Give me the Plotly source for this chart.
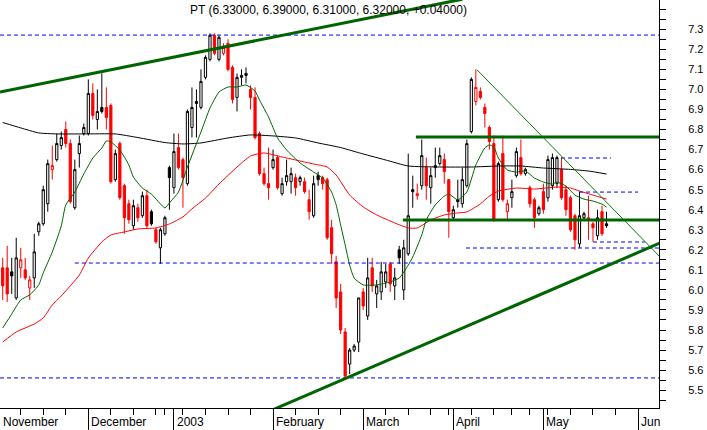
import plotly.graph_objects as go

# ---------------- data (daily candles, index = trading day) ----------------
OPEN = [6.11, 6.11, 6.09, 5.96, 6.11, 6.10, 6.01, 6.06, 6.29, 6.33,
        6.43, 6.60, 6.65, 6.72, 6.80, 6.73, 6.41, 6.68, 6.78, 6.78,
        6.98, 6.85, 6.91, 6.91, 6.92, 6.55, 6.73, 6.52, 6.43, 6.32,
        6.41, 6.37, 6.47, 6.39, 6.30, 6.21, 6.28, 6.61, 6.51, 6.71,
        6.65, 6.53, 6.81, 6.94, 6.91, 7.06, 7.15, 7.27, 7.15, 7.18,
        7.23, 7.11, 6.96, 7.06, 7.08, 7.00, 6.96, 6.78, 6.58, 6.53,
        6.61, 6.66, 6.48, 6.54, 6.54, 6.56, 6.54, 6.54, 6.45, 6.37,
        6.57, 6.56, 6.55, 6.31, 6.14, 5.99, 5.79, 5.63, 5.70, 5.74,
        5.99, 5.87, 6.11, 5.98, 5.99, 6.04, 6.13, 6.02, 6.20, 6.00,
        6.18, 6.50, 6.47, 6.52, 6.61, 6.51, 6.61, 6.63, 6.65, 6.55,
        6.36, 6.45, 6.43, 6.52, 6.79, 6.94, 6.99, 6.91, 6.81, 6.73,
        6.45, 6.68, 6.39, 6.46, 6.57, 6.66, 6.58, 6.51, 6.45, 6.38,
        6.49, 6.46, 6.52, 6.53, 6.60, 6.50, 6.46, 6.37, 6.23, 6.36,
        6.36, 6.33, 6.27, 6.39, 6.33]
HIGH = [6.16, 6.22, 6.16, 6.26, 6.21, 6.16, 6.07, 6.28, 6.34, 6.52,
        6.65, 6.72, 6.78, 6.79, 6.84, 6.75, 6.65, 6.77, 6.83, 7.05,
        7.03, 7.00, 7.08, 7.01, 6.93, 6.70, 6.74, 6.53, 6.45, 6.45,
        6.43, 6.49, 6.50, 6.40, 6.31, 6.31, 6.37, 6.62, 6.78, 6.78,
        6.66, 6.90, 7.01, 7.00, 7.10, 7.17, 7.28, 7.28, 7.27, 7.23,
        7.25, 7.12, 7.08, 7.10, 7.11, 7.02, 7.01, 6.79, 6.61, 6.71,
        6.70, 6.67, 6.56, 6.65, 6.61, 6.58, 6.57, 6.56, 6.50, 6.57,
        6.59, 6.57, 6.56, 6.35, 6.17, 6.03, 5.81, 5.71, 5.73, 5.96,
        6.01, 6.16, 6.16, 6.05, 6.14, 6.13, 6.14, 6.11, 6.22, 6.25,
        6.68, 6.57, 6.53, 6.75, 6.66, 6.61, 6.71, 6.71, 6.68, 6.55,
        6.42, 6.55, 6.61, 6.75, 7.06, 7.10, 7.01, 6.93, 6.82, 6.77,
        6.64, 6.77, 6.45, 6.55, 6.71, 6.75, 6.61, 6.52, 6.46, 6.42,
        6.53, 6.67, 6.68, 6.67, 6.66, 6.52, 6.47, 6.38, 6.49, 6.39,
        6.47, 6.34, 6.40, 6.42, 6.39]
LOW = [5.95, 5.94, 5.98, 5.95, 6.06, 6.05, 5.95, 6.01, 6.27, 6.32,
       6.39, 6.55, 6.64, 6.70, 6.71, 6.43, 6.40, 6.61, 6.77, 6.77,
       6.85, 6.80, 6.88, 6.80, 6.53, 6.54, 6.45, 6.28, 6.33, 6.30,
       6.34, 6.36, 6.31, 6.32, 6.23, 6.13, 6.27, 6.40, 6.48, 6.60,
       6.41, 6.52, 6.76, 6.76, 6.90, 7.05, 7.14, 7.17, 7.14, 7.17,
       7.09, 6.93, 6.89, 7.02, 7.03, 6.90, 6.75, 6.57, 6.52, 6.45,
       6.60, 6.50, 6.47, 6.52, 6.48, 6.47, 6.52, 6.48, 6.35, 6.36,
       6.52, 6.50, 6.25, 6.13, 5.91, 5.78, 5.56, 5.58, 5.69, 5.69,
       5.90, 5.85, 5.99, 5.91, 5.95, 6.01, 5.99, 5.95, 6.13, 5.95,
       6.17, 6.41, 6.45, 6.50, 6.45, 6.43, 6.56, 6.62, 6.53, 6.26,
       6.35, 6.41, 6.41, 6.51, 6.78, 6.92, 6.95, 6.81, 6.70, 6.34,
       6.44, 6.44, 6.35, 6.41, 6.56, 6.57, 6.57, 6.41, 6.31, 6.37,
       6.38, 6.44, 6.50, 6.51, 6.45, 6.37, 6.29, 6.20, 6.21, 6.35,
       6.25, 6.24, 6.25, 6.27, 6.31]
CLOSE = [6.02, 5.98, 6.07, 6.16, 6.15, 6.06, 6.05, 6.19, 6.33, 6.50,
         6.63, 6.62, 6.73, 6.76, 6.73, 6.44, 6.60, 6.73, 6.81, 6.98,
         6.87, 6.89, 6.89, 6.86, 6.54, 6.68, 6.46, 6.36, 6.35, 6.42,
         6.36, 6.47, 6.32, 6.33, 6.24, 6.30, 6.36, 6.56, 6.69, 6.61,
         6.56, 6.89, 6.91, 6.93, 7.04, 7.16, 7.27, 7.18, 7.26, 7.21,
         7.10, 6.95, 7.06, 7.07, 7.07, 6.96, 6.76, 6.58, 6.53, 6.51,
         6.65, 6.51, 6.53, 6.57, 6.58, 6.51, 6.56, 6.49, 6.39, 6.53,
         6.55, 6.53, 6.26, 6.18, 5.96, 5.80, 5.57, 5.70, 5.72, 5.96,
         5.92, 6.06, 6.02, 6.02, 6.09, 6.09, 6.03, 6.06, 6.16, 6.21,
         6.37, 6.49, 6.48, 6.67, 6.52, 6.57, 6.62, 6.67, 6.59, 6.39,
         6.40, 6.44, 6.55, 6.73, 7.05, 7.01, 6.96, 6.88, 6.74, 6.35,
         6.63, 6.45, 6.43, 6.49, 6.69, 6.58, 6.60, 6.43, 6.36, 6.41,
         6.40, 6.65, 6.66, 6.66, 6.46, 6.40, 6.30, 6.25, 6.37, 6.38,
         6.35, 6.31, 6.36, 6.28, 6.32]
PREV_CLOSE_BEFORE_START = 6.12

# moving averages (at sample days)
MA_LONG_X = [0, 4, 8, 12, 18, 25, 30, 36, 40, 44, 50, 55, 60, 65, 70, 75, 80,
             85, 90, 97, 104, 110, 115, 120, 126, 130, 134]
MA_LONG_Y = [6.835, 6.808, 6.783, 6.778, 6.778, 6.778, 6.760, 6.735, 6.728,
             6.733, 6.758, 6.773, 6.768, 6.758, 6.733, 6.710, 6.678, 6.648,
             6.618, 6.613, 6.613, 6.618, 6.618, 6.608, 6.601, 6.593, 6.578]
MA_MID_X = [0, 3, 7, 9, 11, 13, 17, 19, 22, 24, 27, 30, 34, 37, 40, 42, 45, 48,
            52, 55, 58, 62, 65, 69, 72, 74, 77, 80, 83, 87, 90, 92, 95, 98, 101,
            103, 106, 108, 110, 114, 118, 123, 126, 128, 131, 134]
MA_MID_Y = [5.740, 5.790, 5.830, 5.860, 5.925, 5.970, 6.074, 6.159, 6.239,
            6.274, 6.289, 6.304, 6.309, 6.329, 6.364, 6.404, 6.458, 6.528,
            6.613, 6.668, 6.683, 6.663, 6.648, 6.628, 6.613, 6.573, 6.473,
            6.414, 6.374, 6.334, 6.309, 6.309, 6.349, 6.374, 6.384, 6.389,
            6.429, 6.468, 6.493, 6.508, 6.503, 6.513, 6.508, 6.493, 6.473,
            6.453]
MA_SHORT_X = [0, 2, 4, 6, 8, 9, 11, 13, 14, 16, 18, 20, 22, 23, 24, 26, 28, 29,
              31, 33, 36, 37, 39, 41, 44, 46, 48, 50, 52, 54, 56, 57, 59, 61,
              63, 66, 69, 71, 73, 74, 75, 76, 77, 78, 80, 83, 86, 88, 89, 90,
              91, 93, 94, 96, 98, 99, 101, 103, 105, 107, 108, 109, 110, 112,
              114, 116, 118, 120, 122, 123, 125, 127, 129, 131, 133, 134]
MA_SHORT_Y = [5.810, 5.880, 5.950, 5.975, 6.025, 6.085, 6.189, 6.319, 6.424,
              6.488, 6.578, 6.658, 6.708, 6.743, 6.738, 6.698, 6.623, 6.563,
              6.508, 6.478, 6.409, 6.434, 6.488, 6.613, 6.788, 6.907, 6.987,
              7.012, 7.012, 7.022, 6.992, 6.947, 6.862, 6.758, 6.698, 6.633,
              6.588, 6.558, 6.488, 6.424, 6.324, 6.224, 6.124, 6.059, 6.025,
              6.025, 6.040, 6.059, 6.089, 6.124, 6.164, 6.274, 6.349, 6.424,
              6.468, 6.478, 6.449, 6.488, 6.623, 6.708, 6.723, 6.713, 6.658,
              6.598, 6.588, 6.593, 6.558, 6.538, 6.528, 6.538, 6.518, 6.473,
              6.453, 6.443, 6.428, 6.413]

# drawn trend lines and levels (day index, price)
UPPER_TREND_X = [-0.6, 102.0]
UPPER_TREND_Y = [6.987, 7.450]
LOWER_TREND_X = [59.3, 145.9]
LOWER_TREND_Y = [5.396, 6.234]
FALLING_LINE_X = [105.3, 145.9]
FALLING_LINE_Y = [7.097, 6.164]
CHANNEL_LEVELS = [6.763, 6.349]
CHANNEL_START = [91.7, 88.8]
DASH_LEVELS = [7.271, 6.134, 5.561, 6.658, 6.488, 6.239, 6.209]
DASH_START = [-0.6, 16.0, -0.6, 123.9, 127.9, 131.0, 102.8]
DASH_END = [145.7, 145.7, 145.7, 135.0, 141.0, 142.5, 145.7]

# axis categories
MONTH_LABELS = ["November", "December", "2003", "February", "March", "April", "May", "Jun"]
MONTH_POS = [-1, 19, 38, 60, 80, 100, 120, 141]
WEEK_POS = [4, 9, 14, 24, 29, 34, 36, 40, 45, 50, 55, 65, 70, 75, 85, 90, 95, 99,
            104, 109, 113, 117, 121, 126, 131, 136]
Y_TICKS = [round(5.5 + 0.1 * k, 1) for k in range(19)]

X_RANGE = [-0.6, 145.65]
Y_RANGE = [5.411, 7.446]

# ---------------- figure ----------------
n = len(CLOSE)
X = list(range(n))
prev = [PREV_CLOSE_BEFORE_START] + CLOSE[:-1]
is_red = [c < p for c, p in zip(CLOSE, prev)]


def pick(vals, mask):
    return [v if m else None for v, m in zip(vals, mask)]


not_red = [not r for r in is_red]
fig = go.Figure()

fig.add_trace(go.Candlestick(
    x=X, open=pick(OPEN, not_red), high=pick(HIGH, not_red),
    low=pick(LOW, not_red), close=pick(CLOSE, not_red),
    increasing=dict(line=dict(color="black", width=1), fillcolor="white"),
    decreasing=dict(line=dict(color="black", width=1), fillcolor="black"),
    whiskerwidth=0, hoverinfo="skip", showlegend=False))
fig.add_trace(go.Candlestick(
    x=X, open=pick(OPEN, is_red), high=pick(HIGH, is_red),
    low=pick(LOW, is_red), close=pick(CLOSE, is_red),
    increasing=dict(line=dict(color="#ff0000", width=1), fillcolor="white"),
    decreasing=dict(line=dict(color="#ff0000", width=1), fillcolor="#ff0000"),
    whiskerwidth=0, hoverinfo="skip", showlegend=False))

for xs, ys, col in [(MA_LONG_X, MA_LONG_Y, "black"),
                    (MA_MID_X, MA_MID_Y, "#ff0000"),
                    (MA_SHORT_X, MA_SHORT_Y, "#006400")]:
    fig.add_trace(go.Scatter(x=xs, y=ys, mode="lines",
                             line=dict(color=col, width=1, shape="spline", smoothing=0.5),
                             hoverinfo="skip", showlegend=False))

for lv, s, e in zip(DASH_LEVELS, DASH_START, DASH_END):
    fig.add_trace(go.Scatter(x=[s, e], y=[lv, lv], mode="lines",
                             line=dict(color="#0000ff", width=1, dash="4px,3px"),
                             hoverinfo="skip", showlegend=False))

for lv, s in zip(CHANNEL_LEVELS, CHANNEL_START):
    fig.add_trace(go.Scatter(x=[s, X_RANGE[1] + 1], y=[lv, lv], mode="lines",
                             line=dict(color="#006400", width=3),
                             hoverinfo="skip", showlegend=False))

for xs, ys, w in [(UPPER_TREND_X, UPPER_TREND_Y, 3),
                  (LOWER_TREND_X, LOWER_TREND_Y, 3),
                  (FALLING_LINE_X, FALLING_LINE_Y, 1)]:
    fig.add_trace(go.Scatter(x=xs, y=ys, mode="lines",
                             line=dict(color="#006400" if w == 3 else "#008000", width=w),
                             hoverinfo="skip", showlegend=False))

FONT = "Liberation Sans, Arial, sans-serif"
title = "PT ({:.5f}, {:.5f}, {:.5f}, {:.5f}, {:+.5f})".format(
    OPEN[-1], HIGH[-1], LOW[-1], CLOSE[-1], CLOSE[-1] - CLOSE[-2])

annotations = [dict(text=title, x=0.4992, y=1 - 10 / 408, xref="paper", yref="paper",
                    xanchor="center", yanchor="middle", showarrow=False,
                    font=dict(family=FONT, size=12, color="black"))]
for lab, pos in zip(MONTH_LABELS, MONTH_POS):
    annotations.append(dict(text=lab, x=max(pos, X_RANGE[0]), y=-14 / 408,
                            xref="x", yref="paper",
                            xanchor="left", yanchor="middle", xshift=1, showarrow=False,
                            font=dict(family=FONT, size=12, color="black")))

fig.update_layout(
    width=707, height=430,
    margin=dict(l=0, r=48, t=0, b=22, pad=0),
    paper_bgcolor="white", plot_bgcolor="white",
    showlegend=False,
    annotations=annotations,
    xaxis=dict(range=X_RANGE, showgrid=False, zeroline=False,
               showline=True, linecolor="black", linewidth=1,
               tickmode="array", tickvals=MONTH_POS, ticks="outside", ticklen=22,
               tickcolor="black", tickwidth=1, showticklabels=False,
               minor=dict(tickmode="array", tickvals=WEEK_POS, ticks="outside",
                          ticklen=6, tickcolor="black", tickwidth=1, showgrid=False),
               rangeslider=dict(visible=False), fixedrange=True),
    yaxis=dict(range=Y_RANGE, side="right", showgrid=False, zeroline=False,
               showline=True, linecolor="black", linewidth=1,
               tickmode="array", tickvals=Y_TICKS, tickformat=".1f",
               ticks="outside", ticklen=6, tickcolor="black", tickwidth=1,
               ticklabelstandoff=20,
               minor=dict(dtick=0.05, tick0=5.45, ticks="outside", ticklen=6,
                          tickcolor="black", tickwidth=1, showgrid=False),
               tickfont=dict(family=FONT, size=11, color="black"),
               fixedrange=True),
)

fig.write_html("out.html", config={"displayModeBar": False, "staticPlot": True},
               post_script="document.body.style.margin='0';document.body.style.padding='0';")
